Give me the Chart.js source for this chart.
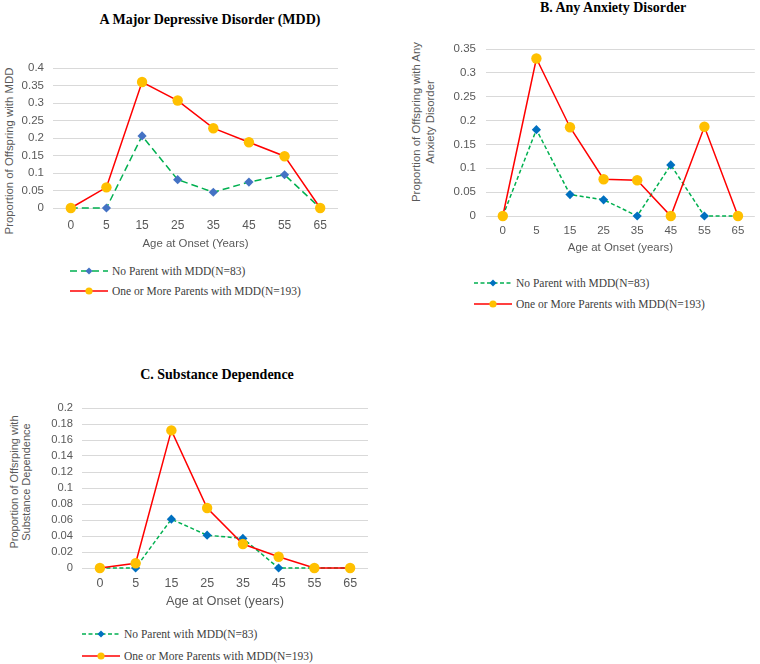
<!DOCTYPE html>
<html>
<head>
<meta charset="utf-8">
<script src="https://cdn.jsdelivr.net/npm/chart.js@4.4.0/dist/chart.umd.min.js"></script>
<style>
    body { margin: 0; background: #fff; }
    #page { position: relative; width: 760px; height: 664px; overflow: hidden; }
    canvas { position: absolute; }
    .title { position: absolute; transform: translate(-50%, -50%); white-space: nowrap;
             font: bold 14px "Liberation Serif", "Times New Roman", serif; color: #000; }
    .ytitle { position: absolute; transform: translate(-50%, -50%) rotate(-90deg); white-space: nowrap;
              text-align: center; font-family: "Liberation Sans", Arial, sans-serif; color: #595959; }
    .legend-row { position: absolute; height: 14px; display: flex; align-items: center;
                  font: 11.5px "Liberation Serif", "Times New Roman", serif; color: #404040; white-space: nowrap; }
    .legend-row svg { margin-right: 4px; }
</style>
</head>
<body>
<div id="page">
    <div class="title" style="left:210px; top:20px;">A Major Depressive Disorder (MDD)</div>
    <div class="title" style="left:613px; top:8px;">B. Any Anxiety Disorder</div>
    <div class="title" style="left:217px; top:375px;">C. Substance Dependence</div>

    <div class="ytitle" style="left:9px; top:151px; font-size:11.4px;">Proportion of Offspring with MDD</div>
    <div class="ytitle" style="left:423px; top:122px; font-size:11.4px; line-height:14px;">Proportion of Offspring with Any<br>Anxiety Disorder</div>
    <div class="ytitle" style="left:20px; top:482px; font-size:11px; line-height:11.5px;">Proportion of Offsrping with<br>Substance Dependence</div>

    <canvas id="chartA" width="345" height="215" style="left:0px; top:40px;"></canvas>
    <canvas id="chartB" width="360" height="230" style="left:400px; top:30px;"></canvas>
    <canvas id="chartC" width="375" height="225" style="left:0px; top:390px;"></canvas>

    <div id="legendA"></div>
    <div id="legendB"></div>
    <div id="legendC"></div>
</div>

<script>
// --- dane ---
const ageLabels = ['0', '5', '15', '25', '35', '45', '55', '65'];
const seriesNames = ['No Parent with MDD(N=83)', 'One or More Parents with MDD(N=193)'];

// A: MDD
const mddNoParent = [0, 0, 0.206, 0.081, 0.045, 0.074, 0.095, 0];
const mddParent   = [0, 0.059, 0.36, 0.307, 0.228, 0.188, 0.148, 0];
// B: anxiety
const anxNoParent = [0, 0.181, 0.045, 0.034, 0, 0.107, 0, 0];
const anxParent   = [0, 0.33, 0.186, 0.077, 0.075, 0, 0.187, 0];
// C: substance dependence
const subNoParent = [0, 0, 0.061, 0.041, 0.037, 0, 0, 0];
const subParent   = [0, 0.006, 0.172, 0.075, 0.03, 0.014, 0, 0];

// y axis ranges (max, step)
const yRangeA = [0.4, 0.05];
const yRangeB = [0.35, 0.05];
const yRangeC = [0.2, 0.02];

const xTitleA = 'Age at Onset (Years)';
const xTitleB = 'Age at Onset (years)';
const xTitleC = 'Age at Onset (years)';

const RED = '#ff0000';
const ORANGE = '#ffc000';
const GREEN = '#00b050';
const FONT = '"Liberation Sans", Arial, sans-serif';

function makeChart(id, cfg) {
    const ctx = document.getElementById(id).getContext('2d');
    return new Chart(ctx, {
        type: 'line',
        data: {
            labels: ageLabels,
            datasets: [
                {
                    label: seriesNames[1],
                    data: cfg.parent,
                    borderColor: RED,
                    borderWidth: 1.5,
                    pointStyle: 'circle',
                    pointRadius: 5.2,
                    pointBackgroundColor: ORANGE,
                    pointBorderColor: ORANGE,
                    pointBorderWidth: 0,
                    tension: 0,
                    clip: false,
                    order: 1
                },
                {
                    label: seriesNames[0],
                    data: cfg.noParent,
                    borderColor: GREEN,
                    borderWidth: 1.5,
                    borderDash: cfg.dash,
                    pointStyle: 'rectRot',
                    pointRadius: 4.6,
                    pointBackgroundColor: cfg.blue,
                    pointBorderColor: cfg.blue,
                    pointBorderWidth: 0,
                    tension: 0,
                    clip: false,
                    order: 2
                }
            ]
        },
        options: {
            responsive: false,
            animation: false,
            events: [],
            layout: { padding: { top: cfg.padTop, right: cfg.padRight, left: 0, bottom: 0 } },
            plugins: { legend: { display: false }, tooltip: { enabled: false } },
            scales: {
                x: {
                    type: 'category',
                    offset: true,
                    grid: { display: false, drawTicks: false },
                    border: { display: false },
                    ticks: { color: '#595959', padding: cfg.xTickPad, maxRotation: 0, autoSkip: false,
                             font: { family: FONT, size: cfg.xTickSize } },
                    title: { display: true, text: cfg.xTitle, color: '#595959',
                             font: { family: FONT, size: cfg.xTitleSize },
                             padding: { top: 0, bottom: cfg.xTitlePad } },
                    afterFit: (scale) => { scale.height = cfg.xHeight; }
                },
                y: {
                    min: 0,
                    max: cfg.yRange[0],
                    grid: { color: '#d9d9d9', lineWidth: 1, drawTicks: false },
                    border: { display: false },
                    ticks: {
                        stepSize: cfg.yRange[1],
                        autoSkip: false,
                        color: '#595959',
                        padding: cfg.yTickPad,
                        font: { family: FONT, size: cfg.yTickSize },
                        callback: (v) => String(+v.toFixed(3))
                    },
                    afterFit: (scale) => { scale.width = cfg.yWidth; }
                }
            }
        }
    });
}

function renderLegend(id, left, rows, blue, dash) {
    const el = document.getElementById(id);
    const sampleNo = `
        <svg width="38" height="10">
            <line x1="0" y1="5" x2="38" y2="5" stroke="${GREEN}" stroke-width="1.5" stroke-dasharray="${dash.join(',')}"/>
            <polygon points="19,1.5 22.5,5 19,8.5 15.5,5" fill="${blue}"/>
        </svg>`;
    const sampleYes = `
        <svg width="38" height="10">
            <line x1="0" y1="5" x2="38" y2="5" stroke="${RED}" stroke-width="1.5"/>
            <circle cx="19" cy="5" r="3.6" fill="${ORANGE}"/>
        </svg>`;
    el.innerHTML = `
        <div class="legend-row" style="left:${left}px; top:${rows[0] - 7}px;">${sampleNo}${seriesNames[0]}</div>
        <div class="legend-row" style="left:${left}px; top:${rows[1] - 7}px;">${sampleYes}${seriesNames[1]}</div>
    `;
}

makeChart('chartA', {
    parent: mddParent, noParent: mddNoParent, yRange: yRangeA, xTitle: xTitleA,
    blue: '#4472c4', dash: [7, 4],
    padTop: 28, padRight: 7, yWidth: 53, xHeight: 47,
    yTickPad: 9, xTickPad: 10, xTitlePad: 4,
    yTickSize: 11.5, xTickSize: 12, xTitleSize: 11.4
});

makeChart('chartB', {
    parent: anxParent, noParent: anxNoParent, yRange: yRangeB, xTitle: xTitleB,
    blue: '#0070c0', dash: [4, 2.5],
    padTop: 19, padRight: 0, yWidth: 86, xHeight: 44,
    yTickPad: 10, xTickPad: 8, xTitlePad: 5,
    yTickSize: 11.5, xTickSize: 11.5, xTitleSize: 11.4
});

makeChart('chartC', {
    parent: subParent, noParent: subNoParent, yRange: yRangeC, xTitle: xTitleC,
    blue: '#0070c0', dash: [4, 2.5],
    padTop: 18, padRight: 7, yWidth: 82, xHeight: 47,
    yTickPad: 9, xTickPad: 8, xTitlePad: 6,
    yTickSize: 11.2, xTickSize: 12.5, xTitleSize: 12.8
});

renderLegend('legendA', 70, [271, 291], '#4472c4', [7, 4]);
renderLegend('legendB', 474, [283, 304], '#0070c0', [4, 2.5]);
renderLegend('legendC', 82, [634, 656], '#0070c0', [4, 2.5]);
</script>
</body>
</html>
